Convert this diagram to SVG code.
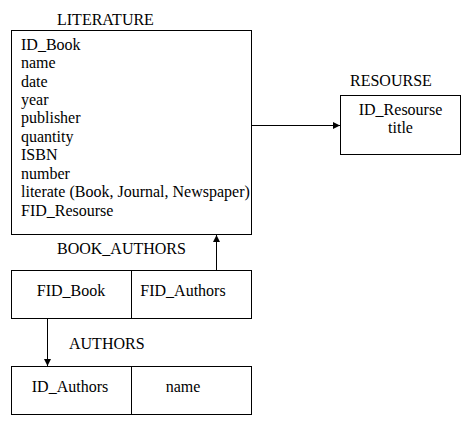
<svg xmlns="http://www.w3.org/2000/svg" width="474" height="424" viewBox="0 0 474 424">
<defs>
<style>
text{font-family:'Liberation Serif','Times New Roman',serif;font-size:16px;fill:#000}
.box{fill:#fff;stroke:#000;stroke-width:1}
.c{stroke:#000;stroke-width:1;fill:none}
</style>
<marker id="ah" viewBox="0 0 10 10" refX="10" refY="5" markerWidth="7" markerHeight="8" orient="auto" markerUnits="userSpaceOnUse"><path d="M0,0 L10,5 L0,10 z" fill="#000"/></marker>
</defs>
<rect width="474" height="424" fill="#fff"/>
<g id="literature" font-family="Liberation Serif, serif">
<text x="57" y="25">LITERATURE</text>
<rect class="box" x="11.5" y="30.5" width="240" height="204"/>
<text x="21" y="50">ID_Book</text>
<text x="21" y="68">name</text>
<text x="21" y="87">date</text>
<text x="21" y="105">year</text>
<text x="21" y="123">publisher</text>
<text x="21" y="142">quantity</text>
<text x="21" y="160">ISBN</text>
<text x="21" y="179">number</text>
<text x="21" y="197">literate (Book, Journal, Newspaper)</text>
<text x="21" y="216">FID_Resourse</text>
</g>
<g id="resourse">
<text x="350" y="86">RESOURSE</text>
<rect class="box" x="340.5" y="95.5" width="120" height="59"/>
<text x="400.5" y="115" text-anchor="middle">ID_Resourse</text>
<text x="400.5" y="133" text-anchor="middle">title</text>
</g>
<g id="book_authors">
<text x="57" y="254">BOOK_AUTHORS</text>
<rect class="box" x="11.5" y="270.5" width="240" height="48"/>
<line class="c" x1="131.5" y1="270.5" x2="131.5" y2="318.5"/>
<text x="71" y="296" text-anchor="middle">FID_Book</text>
<text x="183" y="296" text-anchor="middle">FID_Authors</text>
</g>
<g id="authors">
<text x="69" y="349">AUTHORS</text>
<rect class="box" x="11.5" y="366.5" width="240" height="48"/>
<line class="c" x1="131.5" y1="366.5" x2="131.5" y2="414.5"/>
<text x="70" y="392" text-anchor="middle">ID_Authors</text>
<text x="183" y="392" text-anchor="middle">name</text>
</g>
<g id="connectors">
<line class="c" x1="251.5" y1="125.5" x2="340" y2="125.5" marker-end="url(#ah)"/>
<line class="c" x1="216.5" y1="270.5" x2="216.5" y2="235" marker-end="url(#ah)"/>
<line class="c" x1="47.5" y1="318.5" x2="47.5" y2="366" marker-end="url(#ah)"/>
</g>
</svg>
